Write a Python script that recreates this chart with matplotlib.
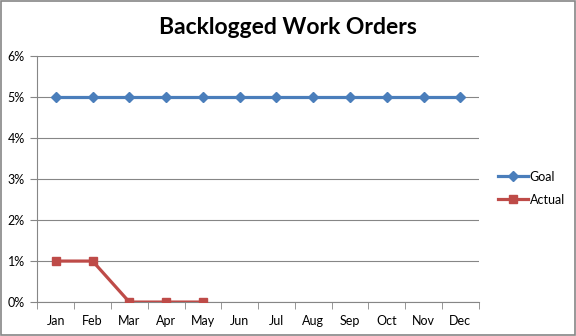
import numpy as np
import matplotlib
matplotlib.use('Agg')
import matplotlib.pyplot as plt
from matplotlib.ticker import FixedLocator, PercentFormatter
from matplotlib.patches import Rectangle

months = ['Jan', 'Feb', 'Mar', 'Apr', 'May', 'Jun', 'Jul', 'Aug', 'Sep', 'Oct', 'Nov', 'Dec']
goal = [5, 5, 5, 5, 5, 5, 5, 5, 5, 5, 5, 5]
actual = [1, 1, 0, 0, 0]

plt.rcParams['font.family'] = ['Lato', 'DejaVu Sans']

fig = plt.figure(figsize=(5.76, 3.36), dpi=100)
ax = fig.add_axes([0.065, 0.101, 0.766, 0.732])

x = np.arange(1, len(months) + 1)
ax.plot(x, goal, color='#4A7EBB', lw=2.3, marker='D', ms=5, label='Goal', zorder=3)
ax.plot(x[:len(actual)], actual, color='#BE4B48', lw=2.3, marker='s', ms=5.5, label='Actual', zorder=3)

ax.set_xlim(0.5, 12.5)
ax.set_ylim(0, 6)
ax.set_yticks(range(0, 7))
ax.yaxis.set_major_formatter(PercentFormatter(decimals=0))
ax.set_xticks(x)
ax.set_xticklabels(months)
ax.xaxis.set_minor_locator(FixedLocator(np.arange(0.5, 13, 1)))
ax.tick_params(axis='x', which='major', length=0, labelsize=9, pad=9)
ax.tick_params(axis='x', which='minor', length=5, color='#868686', direction='out')
ax.tick_params(axis='y', length=5, color='#868686', labelsize=9, pad=4)

ax.grid(axis='y', color='#868686', lw=0.8)
ax.set_axisbelow(True)
for s in ['top', 'right']:
    ax.spines[s].set_visible(False)
for s in ['left', 'bottom']:
    ax.spines[s].set_color('#868686')

fig.text(0.5, 0.918, 'Backlogged Work Orders', ha='center', va='center',
         fontsize=16.5, fontweight='bold')

ax.legend(loc='center left', bbox_to_anchor=(0.845, 0.44), bbox_transform=fig.transFigure,
          frameon=False, fontsize=9, handlelength=2.4, labelspacing=0.9, handletextpad=0.15)

fig.patches.append(Rectangle((0.001, 0.002), 0.997, 0.995, transform=fig.transFigure,
                             fill=False, edgecolor='#868686', lw=1.2))

fig.savefig('out.png', dpi=100)
